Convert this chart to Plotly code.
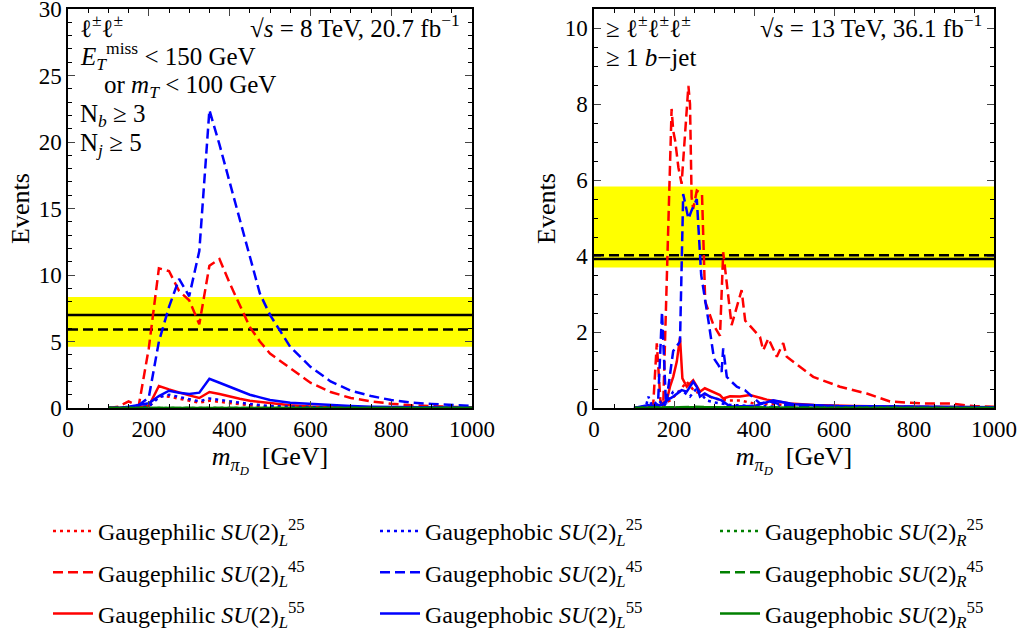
import plotly.graph_objects as go

# ---------------- data: left panel (8 TeV, l±l±) ----------------
xL = [100,125,150,175,200,225,250,275,300,325,350,375,400,425,450,475,500,550,600,650,700,750,800,850,900,950,1000]
L_phil25 = [0,0,0.02,0.05,0.1,0.9,0.85,0.7,0.6,0.4,0.55,0.45,0.35,0.28,0.2,0.15,0.1,0.06,0.03,0.02,0.01,0.01,0,0,0,0,0]
L_phil45 = [0,0.1,0.5,0.15,4.5,10.5,10.3,8.8,8.1,6.3,10.7,11.2,9.4,7.8,6.1,5.0,4.1,3.0,1.9,1.2,0.75,0.5,0.32,0.2,0.12,0.08,0.05]
L_phil55 = [0,0,0.02,0.05,0.15,1.65,1.4,1.15,0.95,0.75,1.2,1.05,0.85,0.7,0.55,0.45,0.35,0.2,0.12,0.07,0.04,0.03,0.02,0.01,0.01,0,0]
L_phob25 = [0,0,0.02,0.05,0.1,0.8,1.0,0.85,0.65,0.5,0.72,0.6,0.5,0.4,0.3,0.22,0.15,0.1,0.05,0.03,0.02,0.01,0.01,0,0,0,0]
L_phob45 = [0,0,0.05,0.2,0.8,5.0,7.6,9.7,8.4,11.8,22.4,19.8,17.0,14.0,11.2,8.6,7.0,4.6,3.1,2.0,1.3,0.9,0.6,0.4,0.3,0.2,0.15]
L_phob55 = [0,0,0.1,0.2,0.35,0.9,1.3,1.15,1.05,1.15,2.2,1.9,1.6,1.3,1.0,0.8,0.6,0.4,0.3,0.2,0.15,0.1,0.07,0.05,0.04,0.03,0.02]
L_R25 = [0,0,0,0.01,0.01,0.02,0.02,0.02,0.01,0.01,0.01,0.01,0.01,0.01,0,0,0,0,0,0,0,0,0,0,0,0,0]
L_R45 = [0,0,0.01,0.02,0.03,0.05,0.05,0.04,0.04,0.03,0.04,0.03,0.03,0.02,0.02,0.01,0.01,0.01,0,0,0,0,0,0,0,0,0]
L_R55 = [0,0,0.01,0.01,0.02,0.03,0.03,0.03,0.02,0.02,0.03,0.02,0.02,0.01,0.01,0.01,0,0,0,0,0,0,0,0,0,0,0]
L_obs, L_exp, L_band = 7.0, 5.9, [4.6, 8.35]

# ---------------- data: right panel (13 TeV, >=3l) ----------------
xR_phil25 = [100,160,190,210,232,252,280,300,331,365,400,450,500,600,1000]
R_phil25 = [0,0.03,0.2,0.4,0.69,0.43,0.35,0.25,0.2,0.2,0.12,0.1,0.06,0.03,0.01]
xR_phil45 = [100,130,148,157,166,173,194,198,203,211,219,236,240,244,248,257,270,278,298,315,323,344,369,378,415,423,436,457,473,482,548,615,682,740,823,890,948,1000]
R_phil45 = [0,0.02,0.08,1.7,0.2,0.05,7.87,7.3,7.03,6.33,5.9,8.48,8.0,5.55,5.24,5.72,5.63,2.8,2.2,1.9,4.1,2.18,3.1,2.3,1.87,1.52,1.83,1.35,1.71,1.35,0.82,0.56,0.38,0.17,0.12,0.12,0.05,0.03]
xR_phil55 = [100,150,165,182,190,198,207,215,221,232,248,265,277,300,315,323,340,365,390,432,490,550,650,800,1000]
R_phil55 = [0,0.02,0.08,0.2,0.56,0.82,1.22,1.85,0.78,0.56,0.73,0.43,0.52,0.4,0.34,0.25,0.31,0.3,0.34,0.22,0.12,0.08,0.05,0.03,0.02]
xR_phob25 = [100,130,136,145,162,175,198,223,240,257,265,282,300,340,400,500,1000]
R_phob25 = [0,0.05,0.3,0.05,0.2,0.05,0.43,0.43,0.3,0.52,0.4,0.2,0.15,0.08,0.05,0.03,0.01]
xR_phob45 = [100,140,160,170,180,198,215,223,236,244,257,268,286,300,311,319,323,332,340,357,377,415,440,470,520,600,700,800,900,1000]
R_phob45 = [0,0.02,0.1,2.53,0.1,1.5,1.75,5.63,4.98,5.2,5.5,3.5,2.3,1.3,1.13,0.95,1.57,0.82,0.73,0.56,0.47,0.12,0.17,0.08,0.06,0.05,0.04,0.03,0.02,0.02]
xR_phob55 = [100,136,150,170,182,198,219,232,248,257,265,277,290,319,340,400,448,500,600,800,1000]
R_phob55 = [0,0.08,0.02,0.08,0.2,0.3,0.47,0.43,0.69,0.56,0.3,0.38,0.3,0.2,0.04,0.05,0.2,0.1,0.05,0.03,0.02]
xR_R = [100,150,200,250,300,350,400,500,600,800,1000]
R_R25 = [0,0.01,0.02,0.02,0.01,0.01,0.01,0,0,0,0]
R_R45 = [0,0.01,0.03,0.03,0.02,0.02,0.01,0.01,0,0,0]
R_R55 = [0,0.01,0.02,0.02,0.02,0.01,0.01,0,0,0,0]
R_obs, R_exp, R_band = 3.92, 4.02, [3.7, 5.83]

labels_phil = ["Gaugephilic <i>SU</i>(2)<sub><i>L</i></sub><sup>%s</sup>" % s for s in ("25", "45", "55")]
labels_phobL = ["Gaugephobic <i>SU</i>(2)<sub><i>L</i></sub><sup>%s</sup>" % s for s in ("25", "45", "55")]
labels_phobR = ["Gaugephobic <i>SU</i>(2)<sub><i>R</i></sub><sup>%s</sup>" % s for s in ("25", "45", "55")]

W, H = 1022, 635
FONT = "'Liberation Serif', 'DejaVu Serif', serif"
RED, BLUE, GREEN = "#ff0000", "#0000ff", "#008000"
DASHES = ["3px,4px", "10px,5px", "solid"]
LW = 2.5

def px(x):
    return x / W

def py(y):
    return 1 - y / H

fig = go.Figure()

# bands & reference lines (drawn first, underneath)
for xa, ya, band, obs, exp in (("x", "y", L_band, L_obs, L_exp), ("x2", "y2", R_band, R_obs, R_exp)):
    fig.add_trace(go.Scatter(x=[0, 1000, 1000, 0, 0], y=[band[0], band[0], band[1], band[1], band[0]],
                             fill="toself", fillcolor="#ffff00", line=dict(width=0), mode="lines",
                             showlegend=False, hoverinfo="skip", xaxis=xa, yaxis=ya))
    fig.add_trace(go.Scatter(x=[0, 1000], y=[obs, obs], mode="lines", line=dict(color="black", width=2.5),
                             showlegend=False, xaxis=xa, yaxis=ya))
    fig.add_trace(go.Scatter(x=[0, 1000], y=[exp, exp], mode="lines",
                             line=dict(color="black", width=2.5, dash="10px,5px"),
                             showlegend=False, xaxis=xa, yaxis=ya))

def add_series(x, y, color, dash, xa, ya, name=None, legend=None, group=None):
    fig.add_trace(go.Scatter(x=x, y=y, mode="lines", line=dict(color=color, width=LW, dash=dash),
                             name=name or "", showlegend=name is not None, legend=legend,
                             legendgroup=group, xaxis=xa, yaxis=ya))

left_sets = [
    (RED, [L_phil25, L_phil45, L_phil55]),
    (BLUE, [L_phob25, L_phob45, L_phob55]),
    (GREEN, [L_R25, L_R45, L_R55]),
]
for color, ys in left_sets:
    for i, yv in enumerate(ys):
        add_series(xL, yv, color, DASHES[i], "x", "y")

right_sets = [
    (RED, [(xR_phil25, R_phil25), (xR_phil45, R_phil45), (xR_phil55, R_phil55)], labels_phil, "legend"),
    (BLUE, [(xR_phob25, R_phob25), (xR_phob45, R_phob45), (xR_phob55, R_phob55)], labels_phobL, "legend2"),
    (GREEN, [(xR_R, R_R25), (xR_R, R_R45), (xR_R, R_R55)], labels_phobR, "legend3"),
]
for color, series, labels, lg in right_sets:
    for i, (xv, yv) in enumerate(series):
        add_series(xv, yv, color, DASHES[i], "x2", "y2", name=labels[i], legend=lg, group=lg + str(i))

tickfont = dict(family=FONT, size=23, color="black")
common_x = dict(range=[0, 1000], tickvals=[0, 200, 400, 600, 800, 1000], ticks="inside", ticklen=7,
                tickwidth=1.2, showline=True, linecolor="black", linewidth=1.5, mirror="allticks",
                showgrid=False, zeroline=False, tickfont=tickfont, ticklabeloverflow="allow",
                minor=dict(dtick=50, ticks="inside", ticklen=4, tickwidth=1, tickcolor="black"),
                title=dict(text="<i>m</i><sub><i>π</i><sub><i>D</i></sub></sub>  [GeV]",
                           font=dict(family=FONT, size=26, color="black"), standoff=4))
common_y = dict(ticks="inside", ticklen=7, tickwidth=1.2, showline=True, linecolor="black", linewidth=1.5,
                mirror="allticks", showgrid=False, zeroline=False, tickfont=tickfont,
                ticklabeloverflow="allow",
                title=dict(text="Events", font=dict(family=FONT, size=26, color="black"), standoff=2))

ydom = [py(408), py(9)]
fig.update_layout(
    width=W, height=H, margin=dict(l=0, r=0, t=0, b=0, autoexpand=False),
    paper_bgcolor="white", plot_bgcolor="white",
    font=dict(family=FONT, size=20, color="black"),
    xaxis=dict(domain=[px(68), px(472)], anchor="y", **common_x),
    yaxis=dict(domain=ydom, anchor="x", range=[0, 30], tickvals=[0, 5, 10, 15, 20, 25, 30],
               minor=dict(dtick=1, ticks="inside", ticklen=4, tickwidth=1, tickcolor="black"), **common_y),
    xaxis2=dict(domain=[px(594), px(994)], anchor="y2", **common_x),
    yaxis2=dict(domain=ydom, anchor="x2", range=[0, 10.5], tickvals=[0, 2, 4, 6, 8, 10],
                minor=dict(dtick=0.5, ticks="inside", ticklen=4, tickwidth=1, tickcolor="black"), **common_y),
    showlegend=True,
)

leg_common = dict(orientation="v", yanchor="top", xanchor="left", bgcolor="rgba(0,0,0,0)",
                  font=dict(family=FONT, size=24, color="black"), tracegroupgap=7, itemwidth=40,
                  traceorder="grouped")
fig.update_layout(
    legend=dict(x=px(48), y=py(509), **leg_common),
    legend2=dict(x=px(375), y=py(509), **leg_common),
    legend3=dict(x=px(715), y=py(509), **leg_common),
)

ann_font = dict(family=FONT, size=25, color="black")
annots = [
    ("ℓ<sup>±</sup>ℓ<sup>±</sup>", 78, 26, "left"),
    ("√<i>s</i> = 8 TeV, 20.7 fb<sup>−1</sup>", 462, 26, "right"),
    ("<i>E</i><sub><i>T</i></sub><sup>miss</sup> < 150 GeV", 78, 56, "left"),
    ("or <i>m</i><sub><i>T</i></sub> < 100 GeV", 102, 86, "left"),
    ("N<sub><i>b</i></sub> ≥ 3", 78, 116, "left"),
    ("N<sub><i>j</i></sub> ≥ 5", 78, 144, "left"),
    ("≥ ℓ<sup>±</sup>ℓ<sup>±</sup>ℓ<sup>±</sup>", 604, 26, "left"),
    ("√<i>s</i> = 13 TeV, 36.1 fb<sup>−1</sup>", 984, 26, "right"),
    ("≥ 1 <i>b</i>−jet", 604, 58, "left"),
]
for text, x0, y0, anc in annots:
    fig.add_annotation(text=text, x=px(x0), y=py(y0), xref="paper", yref="paper", xanchor=anc,
                       yanchor="middle", showarrow=False, font=ann_font)

fig.write_html("out.html", config={"displayModeBar": False},
               post_script="document.body.style.margin='0';")
